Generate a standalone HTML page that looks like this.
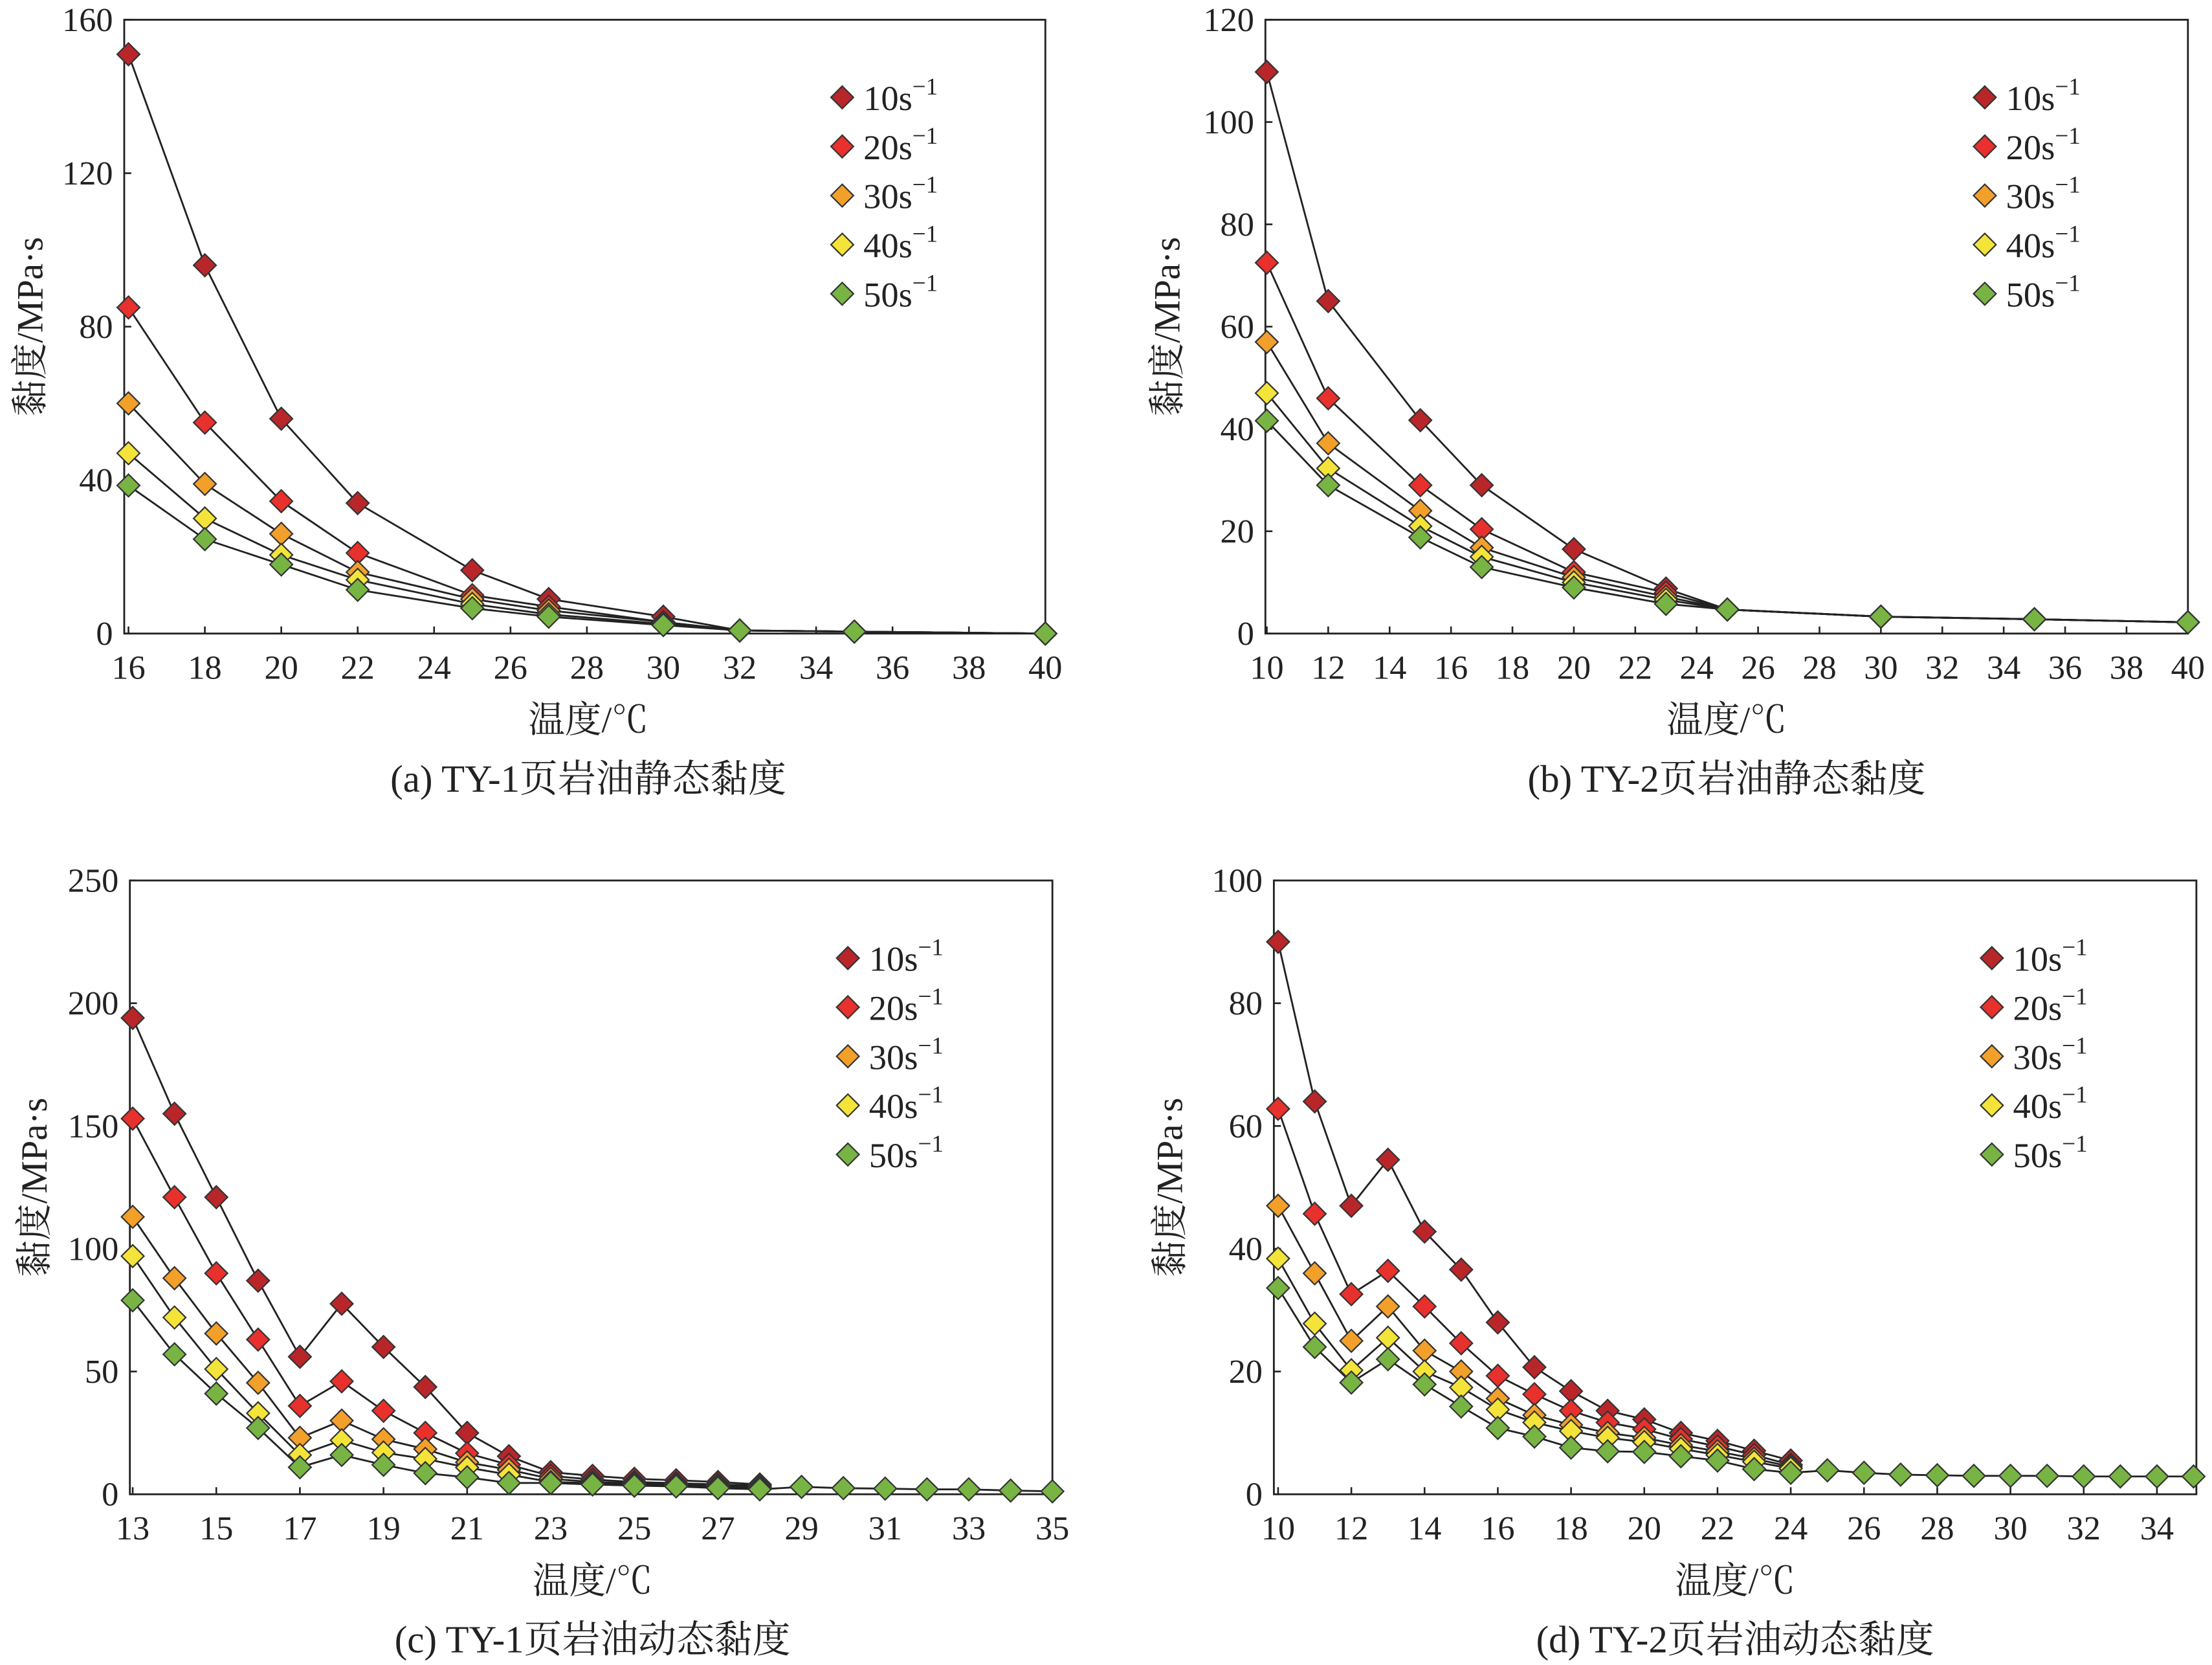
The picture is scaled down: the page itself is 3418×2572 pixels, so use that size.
<!DOCTYPE html>
<html><head><meta charset="utf-8"><style>
html,body{margin:0;padding:0;background:#fff}
svg{display:block}
text{font-family:"Liberation Serif","Noto Serif CJK SC",serif;fill:#222}
</style></head><body>
<svg id="fig" xmlns="http://www.w3.org/2000/svg" width="3418" height="2572" viewBox="0 0 1568 1180"></svg>
<script>
// Panel (a)
const aX=[16,18,20,22,25,27,30,32,35,40];
const a10=[151,96,56,34,16.5,9,4.4,0.8,0.5,0];
const a20=[85,55,34.5,21,10,7,3,0.8,0.5,0];
const a30=[60,39,26,16,9,6,3,0.8,0.5,0];
const a40=[47,30,20.5,14,7.7,5,2.5,0.8,0.5,0];
const a50=[38.6,24.6,18,11.4,6.6,4.4,2.2,0.8,0.5,0];
const aXTicks=[16,18,20,22,24,26,28,30,32,34,36,38,40];
const aYTicks=[0,40,80,120,160];
// Panel (b)
const bX=[10,12,15,17,20,23,25,30,35,40];
const b10=[109.8,65,41.7,29,16.5,8.8,4.7,3.3,2.8,2.2];
const b20=[72.5,46,29,20.4,12,8,4.7,3.3,2.8,2.2];
const b30=[57,37.2,24,16.8,11,7.2,4.7,3.3,2.8,2.2];
const b40=[47,32.3,21,15,10,6.6,4.7,3.3,2.8,2.2];
const b50=[41.6,29,18.8,13,9,5.8,4.7,3.3,2.8,2.2];
const bXTicks=[10,12,14,16,18,20,22,24,26,28,30,32,34,36,38,40];
const bYTicks=[0,20,40,60,80,100,120];
// Panel (c)
const cX=[13,14,15,16,17,18,19,20,21,22,23,24,25,26,27,28,29,30,31,32,33,34,35];
const c10=[194,155,121,87,56,77.6,60,43.7,25,15.5,9,7.5,6.3,5.7,5,4];
const c20=[153,121,90,63,36,46,34,25,16.7,12,7.5,6,5,4.5,4,3.5];
const c30=[113,88,65.5,45.4,23,30,22.4,18.4,13,10,6.3,5,4.5,4,3.5,3];
const c40=[97,72,51,33,16,22,17,14.4,10.9,8,5,4.5,4,3.5,3,2.5];
const c50=[79,57,41,27,11,16,12,8.6,6.9,4.6,4.6,4,3.5,3.2,2.5,2,3,2.5,2.3,2,2,1.5,1.2];
const cXTicks=[13,15,17,19,21,23,25,27,29,31,33,35];
const cYTicks=[0,50,100,150,200,250];
// Panel (d)
const dX=[10,11,12,13,14,15,16,17,18,19,20,21,22,23,24,25,26,27,28,29,30,31,32,33,34,35];
const d10=[90,64,47,54.5,42.8,36.6,28,20.7,16.8,13.6,12.2,10,8.7,7.1,5.5];
const d20=[62.8,45.7,32.6,36.4,30.6,24.6,19.3,16.3,13.6,11.7,10.6,9,7.8,6.4,4.8];
const d30=[47,36,25,30.6,23.4,20,15.6,12.9,11.3,10,9.2,8,7,5.8,4.5];
const d40=[38.4,27.8,20.2,25.5,20,17.4,13.8,11.7,10.3,9.2,8.5,7.4,6.4,5.3,4.2];
const d50=[33.6,24,18.2,22,17.9,14.3,10.8,9.4,7.6,7,6.9,6.2,5.5,4.1,3.5,3.9,3.5,3.2,3.1,3,3,3,2.9,2.9,2.9,2.9];
const dXTicks=[10,12,14,16,18,20,22,24,26,28,30,32,34];
const dYTicks=[0,20,40,60,80,100];

const legendLabels=["10","20","30","40","50"];
const colors=["#b8262a","#e8302c","#f2a02a","#f4e43a","#78b444"];
const NS="http://www.w3.org/2000/svg";
const svg=document.getElementById('fig');
function mk(tag,attrs,parent){const e=document.createElementNS(NS,tag);for(const k in attrs)e.setAttribute(k,attrs[k]);(parent||svg).appendChild(e);return e;}

function panel(cfg){
  const g=mk('g',{});
  
  
  const {x0,x1,y0,y1,xmin,xmax,ymax}=cfg;
  const sx=v=>x0+(v-xmin)/(xmax-xmin)*(x1-x0);
  const sy=v=>y1-v/ymax*(y1-y0);
  const box=mk('rect',{x:cfg.bx0,y:y0,width:cfg.bx1-cfg.bx0,height:y1-y0,fill:'none',stroke:'#222','stroke-width':1.3},g);
  
  
  cfg.xt.forEach(t=>{
    mk('line',{x1:sx(t),x2:sx(t),y1:y1,y2:y1-5,stroke:'#222','stroke-width':1.2},g);
    const tx=mk('text',{x:sx(t),y:y1+32,'text-anchor':'middle','font-size':24},g);
    tx.textContent=t;
    
    
  });
  cfg.yt.forEach(t=>{
    mk('line',{x1:cfg.bx0,x2:cfg.bx0+5,y1:sy(t),y2:sy(t),stroke:'#222','stroke-width':1.2},g);
    const tx=mk('text',{x:cfg.bx0-8,y:sy(t)+8,'text-anchor':'end','font-size':24},g);
    tx.textContent=t;
    
    
  });
  cfg.series.forEach((s,i)=>{
    const pts=s.map((v,j)=>sx(cfg.xs[j])+','+sy(v)).join(' ');
    const pl=mk('polyline',{points:pts,fill:'none',stroke:'#222','stroke-width':1.3},g);
    
    
  });
  cfg.series.forEach((s,i)=>{
    s.forEach((v,j)=>{
      const cx=sx(cfg.xs[j]),cy=sy(v),r=8;
      const p=mk('polygon',{points:`${cx},${cy-r} ${cx+r},${cy} ${cx},${cy+r} ${cx-r},${cy}`,fill:colors[i],stroke:'#333','stroke-width':1},g);
      
      
    });
  });
  legendLabels.forEach((l,i)=>{
    const lx=cfg.lx,ly=cfg.ly+i*34.8,r=8;
    const lg=mk('g',{},g);
    
    
    mk('polygon',{points:`${lx},${ly-r} ${lx+r},${ly} ${lx},${ly+r} ${lx-r},${ly}`,fill:colors[i],stroke:'#333','stroke-width':1},lg);
    const t=mk('text',{x:lx+15,y:ly+9,'font-size':25},lg);
    t.innerHTML=l+'s<tspan dy="-11" font-size="17">−1</tspan>';
  });
  const xl=mk('text',{x:cfg.cx,y:y1+70,'text-anchor':'middle','font-size':26},g);
  xl.textContent='温度/℃';
  
  
  const yl=mk('text',{x:0,y:0,'text-anchor':'middle','font-size':26,transform:`translate(${cfg.ytx},${(y0+y1)/2}) rotate(-90)`},g);
  yl.textContent='黏度/MPa·s';
  
  
  const cap=mk('text',{x:cfg.cx,y:y1+112,'text-anchor':'middle','font-size':27},g);
  cap.textContent=cfg.caption;
  
  
}

panel({id:'a',bx0:88,bx1:741,x0:91,x1:741,y0:14,y1:449,xmin:16,xmax:40,ymax:160,xs:aX,series:[a10,a20,a30,a40,a50],xt:aXTicks,yt:aYTicks,lx:597,ly:69,cx:417,ytx:30,caption:'(a) TY-1页岩油静态黏度'});
panel({id:'b',bx0:897,bx1:1551,x0:898,x1:1551,y0:14,y1:449,xmin:10,xmax:40,ymax:120,xs:bX,series:[b10,b20,b30,b40,b50],xt:bXTicks,yt:bYTicks,lx:1407,ly:69,cx:1224,ytx:836,caption:'(b) TY-2页岩油静态黏度'});
panel({id:'c',bx0:92,bx1:746,x0:94,x1:746,y0:624,y1:1059,xmin:13,xmax:35,ymax:250,xs:cX,series:[c10,c20,c30,c40,c50],xt:cXTicks,yt:cYTicks,lx:601,ly:679,cx:420,ytx:33,caption:'(c) TY-1页岩油动态黏度'});
panel({id:'d',bx0:903,bx1:1557,x0:906,x1:1555,y0:624,y1:1059,xmin:10,xmax:35,ymax:100,xs:dX,series:[d10,d20,d30,d40,d50],xt:dXTicks,yt:dYTicks,lx:1412,ly:679,cx:1230,ytx:838,caption:'(d) TY-2页岩油动态黏度'});
</script>
</body></html>
